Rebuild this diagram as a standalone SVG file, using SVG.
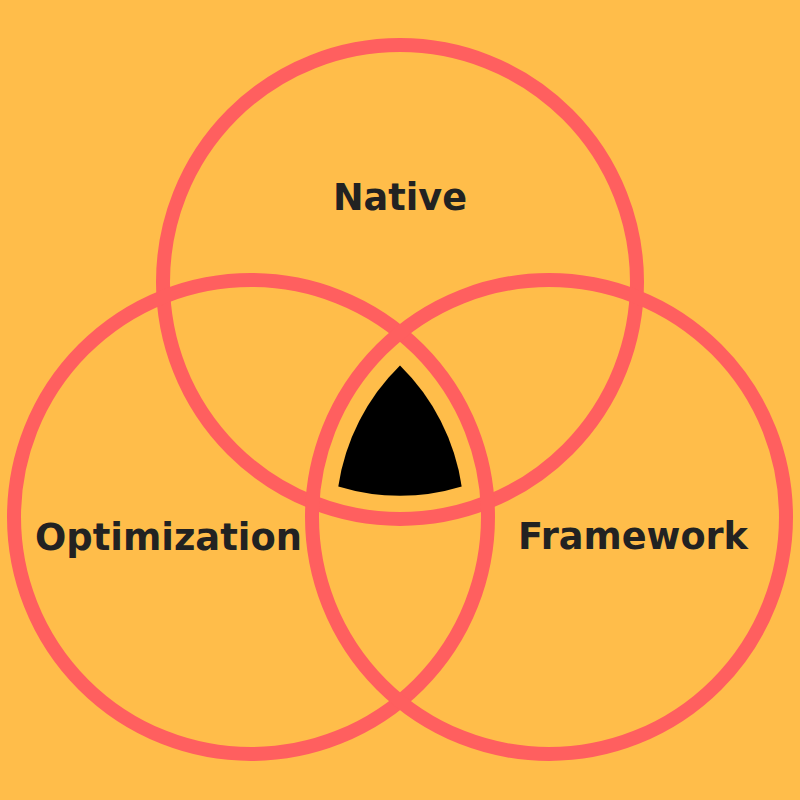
<svg xmlns="http://www.w3.org/2000/svg" width="800" height="800" viewBox="0 0 800 800">
<style>
.ring{fill:none;stroke:#FF5F5F;stroke-width:14}
.lbl{font-family:"DejaVu Sans","Liberation Sans",sans-serif;font-weight:bold;font-size:37px;fill:#222222;text-anchor:middle}
</style>
<rect width="800" height="800" fill="#FFBD4A"/>
<g id="native">
<circle class="ring" cx="400" cy="282" r="237"/>
<text class="lbl" x="400" y="210" textLength="134" lengthAdjust="spacingAndGlyphs">Native</text>
</g>
<g id="optimization">
<circle class="ring" cx="251" cy="517" r="237"/>
<text class="lbl" x="168.5" y="550" textLength="267" lengthAdjust="spacingAndGlyphs">Optimization</text>
</g>
<g id="framework">
<circle class="ring" cx="549" cy="517" r="237"/>
<text class="lbl" x="633" y="549" textLength="230" lengthAdjust="spacingAndGlyphs">Framework</text>
</g>
<g id="center">
<path d="M400 365.5 A213 213 0 0 1 461.7 486.5 A213 213 0 0 1 338.3 486.5 A213 213 0 0 1 400 365.5 Z" fill="#000000"/>
</g>
</svg>
